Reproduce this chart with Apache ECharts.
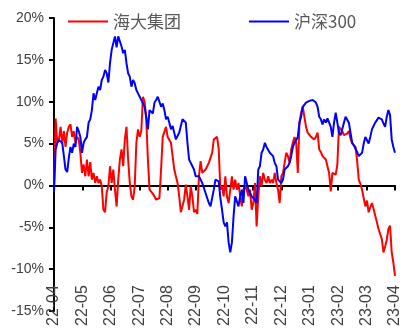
<!DOCTYPE html>
<html>
<head>
<meta charset="utf-8">
<script src="https://cdn.jsdelivr.net/npm/echarts@6/dist/echarts.min.js"></script>
<style>
  html, body { margin: 0; padding: 0; background: #fff; }
  #chart { width: 403px; height: 329px; }
</style>
</head>
<body>
<div id="chart"></div>
<script>
var monthLabels = ['22-04', '22-05', '22-06', '22-07', '22-08', '22-09', '22-10',
  '22-11', '22-12', '23-01', '23-02', '23-03', '23-04'];

var seriesNames = ['海大集团', '沪深300'];

// 海大集团 relative return (%)
var haida = [
  0.0, 8.0, 5.1, 5.5, 7.0, 5.0, 6.5, 4.6, 6.3, 7.0, 7.3, 5.8, 6.5, 5.1, 5.8, 5.5,
  3.9, 1.5, 2.5, 1.1, 3.1, 1.1, 2.8, 0.7, 1.5, 0.3, 1.1, 0.3, 0.7, -0.1, -2.9,
  -3.2, -0.8, -0.1, 2.3, 0.3, 1.9, -0.5, -2.5, 0.7, 3.1, 4.3, 2.3, 5.5, 7.0, 3.1,
  0.3, -1.3, -1.7, -0.1, 5.1, 6.7, 5.8, 6.5, 10.6, 10.0, 7.9, 3.1, -0.5, -0.7,
  -1.0, -1.3, -1.7, -1.7,
  -1.5, 1.9, 5.8, 6.0, 7.0, 5.8, 6.0, 5.1, 3.5, 1.9, 1.1, 0.3, -1.3, -3.2, -3.4,
  -1.7, 0.1, -1.3, -2.9, -0.1, -1.3, -3.2, -2.9, -3.4, 1.1, 2.9, 1.5, 1.7, 1.9,
  2.3, 2.7, 3.3, 3.9, 5.5, 5.3, 5.8, 4.3,
  -0.5, -0.1, -1.3, 1.1, -1.3, -2.1, -2.1, 1.1, -0.5, 0.7, -0.5, 0.3, -1.3, -2.5,
  -0.5, 0.0, -0.5, -1.3, -0.5, -2.9, -2.1, 0.3, -4.9, -1.3, 1.1, -0.1, 1.5, 0.7, 0.3,
  1.1, 0.3, 0.7, 0.3, 1.5, 0.3, -0.5, -2.1, 1.1, 1.5, 2.7, 3.9, 3.5, 2.7, 4.3, 5.1,
  5.8, 5.1, 1.5, 7.5, 8.7, 9.4, 8.2, 7.0, 6.3, 6.1, 5.8, 5.7, 5.5, 5.8, 6.3, 4.3, 4.0,
  3.5, 3.4, 3.1, 3.0, 1.5, -0.7, 1.5, 1.5, 1.3, 2.5, 7.0, 6.8, 6.5, 6.0, 5.8, 6.2,
  6.5, 5.6, 5.0, 4.8, 4.6, 3.0, 0.7, 0.2, -0.5, -1.5, -2.5, -1.8, -3.2, -2.6, -2.1,
  -2.8, -3.6, -4.4, -5.2, -5.8, -6.4, -8.0, -7.3, -6.5, -5.2, -4.8, -8.0, -9.2, -10.8
];

// 沪深300 relative return (%)
var hs300 = [
  -0.8, 4.3, 5.1, 5.4, 5.4, 5.1, 3.5, 1.9, 1.6, 3.3, 4.6, 3.9, 5.0, 4.6, 7.0, 6.5,
  5.8, 3.9, 5.1, 5.5, 5.8, 7.5, 7.9, 9.0, 11.0, 10.2, 11.0, 11.8, 11.4, 12.6, 13.0,
  13.8, 13.4, 12.3, 14.6, 16.2, 17.0, 17.8, 16.5, 17.8, 17.8, 16.6, 15.8, 16.2,
  14.6, 13.4, 13.0, 11.8, 12.6, 12.2, 11.4, 11.0, 11.0, 10.2, 9.8, 9.4, 8.2, 6.7,
  9.0, 9.0, 8.6, 9.9, 10.2, 10.6,
  10.6, 9.4, 9.8, 9.0, 7.9, 8.2, 7.5, 6.7, 7.1, 6.3, 5.5, 5.3, 6.3, 7.1, 7.9, 7.9,
  7.5, 5.1, 3.1, 2.7, 2.7, 1.9, 1.1, 1.3, 1.1, 0.7, 0.3, -0.3, -0.9, -1.5, -2.1,
  -2.5, -2.3, -0.5, 0.7, 0.7, 0.5,
  -1.5, -2.9, -4.4, -4.9, -4.4, -6.8, -8.0, -6.8, -3.7, -1.3, -1.3, -2.5, -1.3,
  -0.5, -2.1, 1.1, 0.3, -0.5, -0.9, -1.3, -1.3, -1.7, -2.1, 1.9, 2.3, 3.9, 4.3, 5.1,
  4.6,
  4.7, 3.9, 3.9, 3.5, 2.7, 2.3, 0.7, 0.5, 0.3, 0.7, 1.9, 1.9, 2.3, 2.7, 3.5, 4.6,
  5.1, 5.1, 5.8, 7.5, 8.2, 9.4, 9.4, 9.9, 10.0, 10.1, 10.2, 10.2, 10.2, 9.9, 9.4,
  8.2, 7.9,
  7.3, 7.9, 7.5, 8.0, 8.2, 7.0, 5.8, 7.5, 8.7, 7.5, 6.3, 6.0, 6.0, 7.5, 8.2, 8.0,
  7.5, 6.3, 5.1, 4.8, 4.6, 4.0, 3.5, 3.7, 3.9, 5.0, 5.8, 5.4, 5.0, 5.8, 6.7, 7.1,
  7.5, 7.8, 8.1, 8.0, 7.9, 7.4, 7.0, 8.2, 9.0, 8.4, 5.5, 4.6, 3.9
];

function toPoints(values) {
  var step = (monthLabels.length - 1) / (values.length - 1);
  return values.map(function(v, i) {
    return [i * step, v];
  });
}

var chart = echarts.init(document.getElementById('chart'));

var option = {
  backgroundColor: '#ffffff',
  animation: false,
  legend: {
    left: 63,
    top: 8,
    itemWidth: 40,
    itemHeight: 2,
    itemGap: 68,
    icon: 'rect',
    textStyle: {
      fontFamily: 'Noto Sans CJK SC',
      fontSize: 17,
      color: '#595959'
    },
    data: seriesNames
  },
  grid: {
    left: 54,
    right: 5,
    top: 18,
    bottom: 17
  },
  xAxis: {
    type: 'value',
    min: 0,
    max: monthLabels.length - 1,
    interval: 1,
    offset: -34,
    axisLine: { show: true, lineStyle: { color: '#000', width: 2 } },
    axisTick: { show: true, length: 5, lineStyle: { color: '#000', width: 2 } },
    splitLine: { show: false },
    axisLabel: {
      rotate: 90,
      margin: 8,
      fontFamily: 'Liberation Sans',
      fontSize: 16,
      color: '#404040',
      formatter: function(v) {
        return monthLabels[Math.round(v)];
      }
    }
  },
  yAxis: {
    type: 'value',
    min: -15,
    max: 20,
    interval: 5,
    axisLine: { show: true, lineStyle: { color: '#000', width: 2 } },
    axisTick: { show: true, length: 5, lineStyle: { color: '#000', width: 2 } },
    splitLine: { show: false },
    axisLabel: {
      margin: 10,
      fontFamily: 'Liberation Sans',
      fontSize: 14,
      color: '#404040',
      formatter: function(v) {
        return v + '%';
      }
    }
  },
  series: [{
    name: seriesNames[0],
    type: 'line',
    showSymbol: false,
    symbol: 'none',
    z: 2,
    lineStyle: { color: '#ff0000', width: 2 },
    itemStyle: { color: '#ff0000' },
    data: toPoints(haida)
  }, {
    name: seriesNames[1],
    type: 'line',
    showSymbol: false,
    symbol: 'none',
    z: 3,
    lineStyle: { color: '#0000ff', width: 2 },
    itemStyle: { color: '#0000ff' },
    data: toPoints(hs300)
  }]
};

chart.setOption(option);
window.addEventListener('resize', function() {
  chart.resize();
});
</script>
</body>
</html>
